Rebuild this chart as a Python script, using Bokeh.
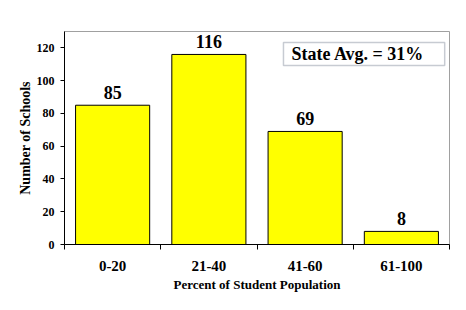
import numpy as np
from bokeh.plotting import figure
from bokeh.models import ColumnDataSource, FixedTicker, Range1d, BoxAnnotation, Label
from bokeh.core.properties import value
from bokeh.embed import file_html
from bokeh.resources import INLINE

categories = ["0-20", "21-40", "41-60", "61-100"]
schools = [85, 116, 69, 8]
y_ticks = [0, 20, 40, 60, 80, 100, 120]
state_avg_text = "State Avg. = 31%"

FONT = "Liberation Serif"

centers = list(np.arange(len(categories)) + 0.5)
src = ColumnDataSource(dict(x=centers, top=schools, label=[str(v) for v in schools]))

p = figure(width=450, height=294, output_backend="svg", toolbar_location=None,
           x_range=Range1d(0, len(categories)), y_range=Range1d(0, 130),
           min_border_left=64, min_border_right=1, min_border_top=31, min_border_bottom=50)

p.background_fill_color = "white"
p.border_fill_color = "white"
p.outline_line_color = "#a0a0a0"
p.outline_line_width = 1
p.xgrid.visible = False
p.ygrid.visible = False

p.vbar(x="x", top="top", width=0.77, bottom=0, source=src,
       fill_color="#FFFF00", line_color="black", line_width=1)

p.text(x="x", y="top", text="label", source=src, text_align="center",
       text_baseline="alphabetic", y_offset=-13,
       text_font=value(FONT), text_font_style="bold", text_font_size="18px",
       text_color="black")

# x axis
xa = p.xaxis[0]
xa.ticker = FixedTicker(ticks=centers, minor_ticks=list(range(len(categories) + 1)))
xa.major_label_overrides = {c: lab for c, lab in zip(centers, categories)}
xa.major_tick_line_color = None
xa.major_tick_out = 5
xa.minor_tick_out = 5
xa.minor_tick_in = 0
xa.minor_tick_line_color = "black"
xa.axis_line_color = "black"
xa.major_label_text_font = FONT
xa.major_label_text_font_style = "bold"
xa.major_label_text_font_size = "15px"
xa.major_label_text_color = "black"
xa.major_label_standoff = 11
xa.axis_label = "Percent of Student Population"
xa.axis_label_text_font = FONT
xa.axis_label_text_font_style = "bold"
xa.axis_label_text_font_size = "13px"
xa.axis_label_text_color = "black"
xa.axis_label_standoff = 3

# y axis
ya = p.yaxis[0]
ya.ticker = FixedTicker(ticks=y_ticks, minor_ticks=[])
ya.major_tick_out = 4
ya.major_tick_in = 0
ya.axis_line_color = "black"
ya.major_label_text_font = FONT
ya.major_label_text_font_style = "bold"
ya.major_label_text_font_size = "12px"
ya.major_label_text_color = "black"
ya.major_label_standoff = 6
ya.axis_label = "Number of Schools"
ya.axis_label_text_font = FONT
ya.axis_label_text_font_style = "bold"
ya.axis_label_text_font_size = "14px"
ya.axis_label_text_color = "black"
ya.axis_label_standoff = 1

box = BoxAnnotation(left=2.275, right=3.95, bottom=109.3, top=123.3,
                    fill_color="white", fill_alpha=1.0,
                    line_color="#44546a", line_width=1.5)
p.add_layout(box)
lab = Label(x=2.358, y=116.3, text=state_avg_text, text_baseline="middle",
            text_font=FONT, text_font_style="bold", text_font_size="18px",
            text_color="black")
p.add_layout(lab)

open("out.html", "w").write(file_html(p, INLINE))
